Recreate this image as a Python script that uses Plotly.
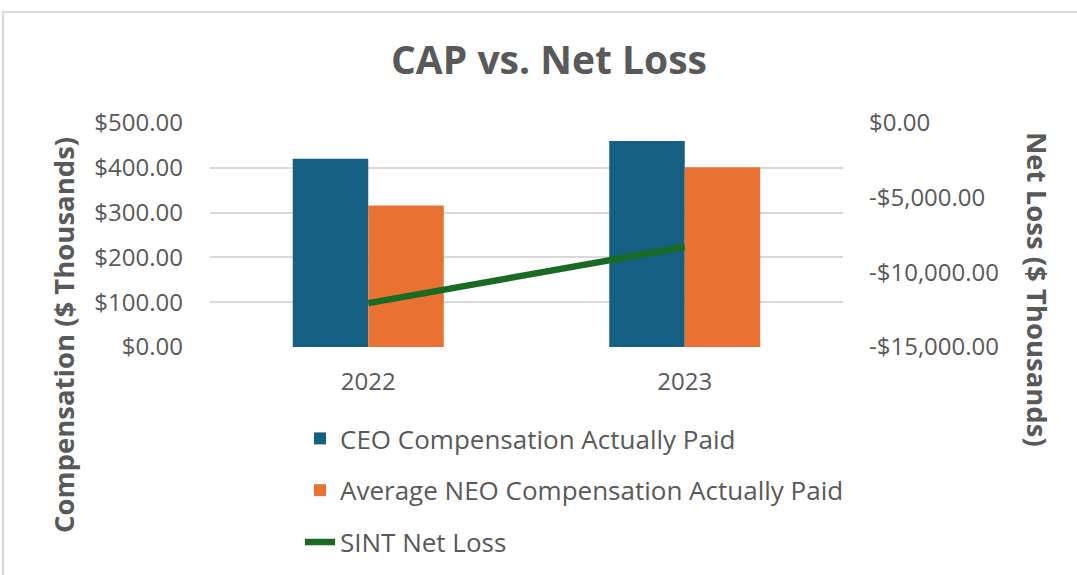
import plotly.graph_objects as go

years = ["2022", "2023"]
ceo_cap = [420, 460]
neo_cap = [316, 401]
net_loss = [-12060, -8300]

left_ticks = [0, 100, 200, 300, 400, 500]
right_ticks = [0, -5000, -10000, -15000]
right_ticktext = ["$0.00", "-$5,000.00", "-$10,000.00", "-$15,000.00"]

TXT = "#595959"
FONT = "Open Sans"

fig = go.Figure()
fig.add_trace(go.Bar(x=years, y=ceo_cap, name="CEO Compensation Actually Paid",
                     marker=dict(color="#156082", line=dict(width=0)), legendgroup="a"))
fig.add_trace(go.Bar(x=years, y=neo_cap, name="Average NEO Compensation Actually Paid",
                     marker=dict(color="#E97132", line=dict(width=0)), legendgroup="b"))
fig.add_trace(go.Scatter(x=years, y=net_loss, name="SINT Net Loss", mode="lines",
                         line=dict(color="#196B24", width=6.5), yaxis="y2", legendgroup="c"))

W, H = 1077, 575
L, R, T, B = 210, 234, 123, 228
pw, ph = W - L - R, H - T - B


def px(xp):
    return (xp - L) / pw


def py(yp):
    return (H - B - yp) / ph


fig.update_layout(
    width=W, height=H,
    margin=dict(l=L, r=R, t=T, b=B, autoexpand=False),
    paper_bgcolor="white", plot_bgcolor="white",
    font=dict(family=FONT, color=TXT, size=24),
    barmode="group", bargap=0.523, bargroupgap=0,
    title=dict(text="<b>CAP vs. Net Loss</b>", x=549 / W, xanchor="center",
               y=1 - 60 / H, yanchor="middle",
               font=dict(size=39, color=TXT, family=FONT)),
    xaxis=dict(showgrid=False, showline=False, ticks="", ticklabelstandoff=18,
               automargin=False, tickfont=dict(size=24, color=TXT)),
    yaxis=dict(range=[0, 500], tickvals=left_ticks, tickformat="$,.2f",
               showgrid=True, gridcolor="#d9d9d9", gridwidth=1.5,
               zeroline=False, showline=False, ticks="", ticklabelstandoff=26,
               automargin=False, tickfont=dict(size=24, color=TXT)),
    yaxis2=dict(range=[-15000, 0], overlaying="y", side="right",
                tickvals=right_ticks, ticktext=right_ticktext,
                showgrid=False, zeroline=False, showline=False, ticks="",
                ticklabelstandoff=25, automargin=False,
                tickfont=dict(size=24, color=TXT)),
    legend=dict(x=px(300), y=py(415), xanchor="left", yanchor="top",
                orientation="v", font=dict(size=26, color=TXT),
                tracegroupgap=15, traceorder="grouped",
                bgcolor="rgba(0,0,0,0)"),
    showlegend=True,
)

fig.add_annotation(text="<b>Compensation ($ Thousands)</b>", xref="paper", yref="paper",
                   x=px(63), y=py(335), xanchor="center", yanchor="middle",
                   textangle=-90, showarrow=False,
                   font=dict(size=27.5, color=TXT, family=FONT))
fig.add_annotation(text="<b>Net Loss ($ Thousands)</b>", xref="paper", yref="paper",
                   x=px(1038), y=py(289), xanchor="center", yanchor="middle",
                   textangle=90, showarrow=False,
                   font=dict(size=27.5, color=TXT, family=FONT))

fig.add_shape(type="rect", xref="paper", yref="paper",
              x0=px(3), x1=px(1100), y0=py(600), y1=py(12),
              line=dict(color="#d9d9d9", width=2), layer="below")

fig.write_html("out.html", config={"displayModeBar": False},
               post_script="document.body.style.margin='0';")
